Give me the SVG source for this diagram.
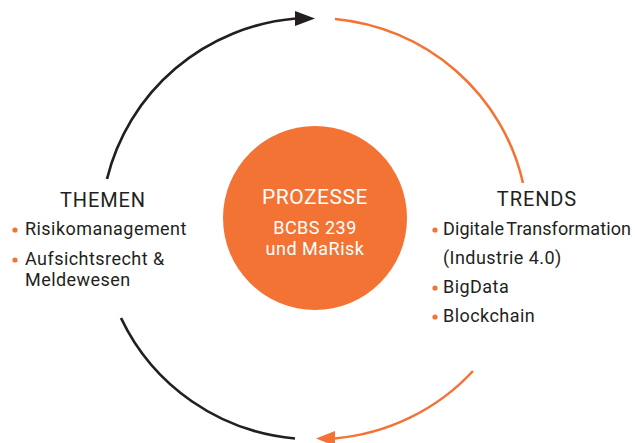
<svg xmlns="http://www.w3.org/2000/svg" width="635" height="443" viewBox="0 0 635 443">
<style>
.t{font-family:Roboto,"Liberation Sans",sans-serif;fill:#231F20}
.h{font-size:20px;letter-spacing:0.9px}
.b{font-size:18px;letter-spacing:0.45px}
.w{font-family:Roboto,"Liberation Sans",sans-serif;fill:#fff;text-anchor:middle}
.dot{fill:#F37335}
.k{fill:none;stroke:#231F20;stroke-width:2.7}
.o{fill:none;stroke:#F37335;stroke-width:2.5}
</style>
<rect width="635" height="443" fill="#fff"/>
<g id="connectors">
<path class="k" d="M107,179 A213,211 0 0 1 296,18.5"/>
<polygon points="295,11 315,18.5 295,26" fill="#231F20"/>
<path class="o" d="M335,19 A213,211 0 0 1 523,183"/>
<path class="k" d="M121,318 A213,211 0 0 0 295,438.5"/>
<path class="o" d="M473,371 A213,211 0 0 1 334,438.5"/>
<polygon points="335,431 316,438.5 335,446" fill="#F37335"/>
</g>
<g id="prozesse">
<circle cx="315" cy="218" r="92" fill="#F37335"/>
<text class="w" x="315" y="204" font-size="21" letter-spacing="0.5">PROZESSE</text>
<text class="w" x="315" y="234" font-size="18" letter-spacing="0.5">BCBS 239</text>
<text class="w" x="315" y="255" font-size="18" letter-spacing="0.5">und MaRisk</text>
</g>
<g id="themen">
<text class="t h" x="103" y="207" text-anchor="middle">THEMEN</text>
<circle class="dot" cx="15" cy="230" r="2.6"/>
<text class="t b" x="25" y="235">Risikomanagement</text>
<circle class="dot" cx="15" cy="260" r="2.6"/>
<text class="t b" x="25" y="265">Aufsichtsrecht &amp;</text>
<text class="t b" x="25" y="286">Meldewesen</text>
</g>
<g id="trends">
<text class="t h" x="537" y="206" text-anchor="middle">TRENDS</text>
<circle class="dot" cx="435" cy="230" r="2.6"/>
<text class="t b" x="443" y="235" style="letter-spacing:0;word-spacing:-2px" textLength="188" lengthAdjust="spacing">Digitale Transformation</text>
<text class="t b" x="443" y="264">(Industrie 4.0)</text>
<circle class="dot" cx="435" cy="288" r="2.6"/>
<text class="t b" x="443" y="293">BigData</text>
<circle class="dot" cx="435" cy="317" r="2.6"/>
<text class="t b" x="443" y="322">Blockchain</text>
</g>
</svg>
